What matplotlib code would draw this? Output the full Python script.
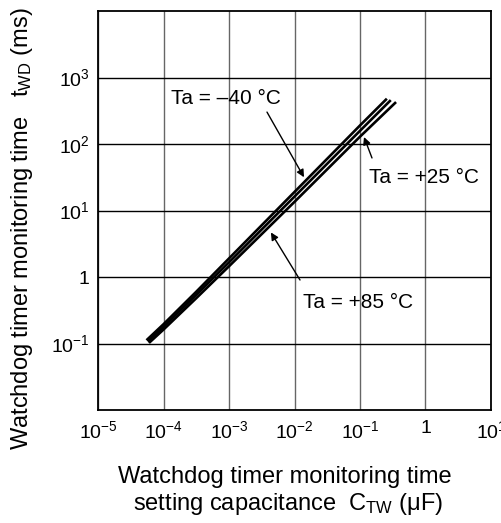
#---------------- WATCHDOG TIMER MONITORING TIME vs CAPACITANCE ----------------

import matplotlib
matplotlib.use("Agg")
import matplotlib.pyplot as plt

plt.rcParams['font.family'] = ['Liberation Sans', 'DejaVu Sans']
plt.rcParams['mathtext.fontset'] = 'custom'
plt.rcParams['mathtext.rm'] = 'Liberation Sans'
plt.rcParams['mathtext.it'] = 'Liberation Sans:italic'

# capacitance CTW (uF) and monitoring time tWD (ms), one pair per temperature
cap_m40 = [5.5e-5, 1e-4, 3.16e-4, 1e-3, 1e-2, 1e-1, 0.257]
twd_m40 = [0.112, 0.195, 0.60, 1.90, 19.0, 190, 480]

cap_p25 = [5.75e-5, 1e-4, 3.16e-4, 1e-3, 1e-2, 1e-1, 0.295]
twd_p25 = [0.107, 0.178, 0.54, 1.66, 16.2, 158, 457]

cap_p85 = [6.0e-5, 1e-4, 3.16e-4, 1e-3, 1e-2, 1e-1, 0.355]
twd_p85 = [0.102, 0.162, 0.48, 1.45, 13.5, 129, 427]

# tick positions / labels
x_ticks = [1e-5, 1e-4, 1e-3, 1e-2, 1e-1, 1, 1e1]
x_labels = ['$10^{-5}$', '$10^{-4}$', '$10^{-3}$', '$10^{-2}$', '$10^{-1}$', '1', '$10^{1}$']
y_ticks = [1e-1, 1, 1e1, 1e2, 1e3]
y_labels = ['$10^{-1}$', '1', '$10^{1}$', '$10^{2}$', '$10^{3}$']

W, H = 501, 523
fig = plt.figure(figsize=(W / 100, H / 100), dpi=100)
ax = fig.add_axes([98 / W, 113 / H, 393 / W, 399 / H])

ax.set_xscale('log')
ax.set_yscale('log')
ax.set_xlim(1e-5, 1e1)
ax.set_ylim(1e-2, 1e4)

ax.set_xticks(x_ticks)
ax.set_xticklabels(x_labels)
ax.set_yticks(y_ticks)
ax.set_yticklabels(y_labels)
ax.minorticks_off()
ax.tick_params(length=0, labelsize=14)
ax.tick_params(axis='x', pad=7)
ax.tick_params(axis='y', pad=6)

# grid : vertical lines grey, horizontal ones black
ax.xaxis.grid(True, color='0.4', lw=1.0)
ax.yaxis.grid(True, color='k', lw=1.0)
ax.set_axisbelow(True)
for s in ax.spines.values():
	s.set_linewidth(1.3)

# the three curves
for cap, twd in [(cap_m40, twd_m40), (cap_p25, twd_p25), (cap_p85, twd_p85)]:
	ax.plot(cap, twd, color='k', lw=1.9, solid_capstyle='butt')

# labels + arrows
arrow = dict(arrowstyle='-|>', color='k', lw=1.0, mutation_scale=11, shrinkA=0, shrinkB=0)
ax.annotate('', xy=(10**-1.855, 10**1.50), xytext=(10**-2.42, 10**2.48), arrowprops=arrow)
ax.text(10**-3.885, 10**2.68, 'Ta = \u201340 \u00b0C', fontsize=15, va='center', ha='left')

ax.annotate('', xy=(10**-0.939, 10**2.105), xytext=(10**-0.817, 10**1.79), arrowprops=arrow)
ax.text(10**-0.863, 10**1.49, 'Ta = +25 \u00b0C', fontsize=15, va='center', ha='left')

ax.annotate('', xy=(10**-2.36, 10**0.67), xytext=(10**-1.916, 10**-0.045), arrowprops=arrow)
ax.text(10**-1.87, 10**-0.376, 'Ta = +85 \u00b0C', fontsize=15, va='center', ha='left')

# axis titles
fig.text(22 / W, 1 - 229 / H,
		 'Watchdog timer monitoring time   t$_{\\mathregular{WD}}$ (ms)',
		 rotation=90, fontsize=17, ha='center', va='center')
fig.text(285 / W, 1 - 477 / H, 'Watchdog timer monitoring time',
		 fontsize=17, ha='center', va='center')
fig.text(288 / W, 1 - 504 / H, 'setting capacitance  C$_{\\mathregular{TW}}$ (\u03bcF)',
		 fontsize=17, ha='center', va='center')

fig.savefig('out.png', dpi=100)
